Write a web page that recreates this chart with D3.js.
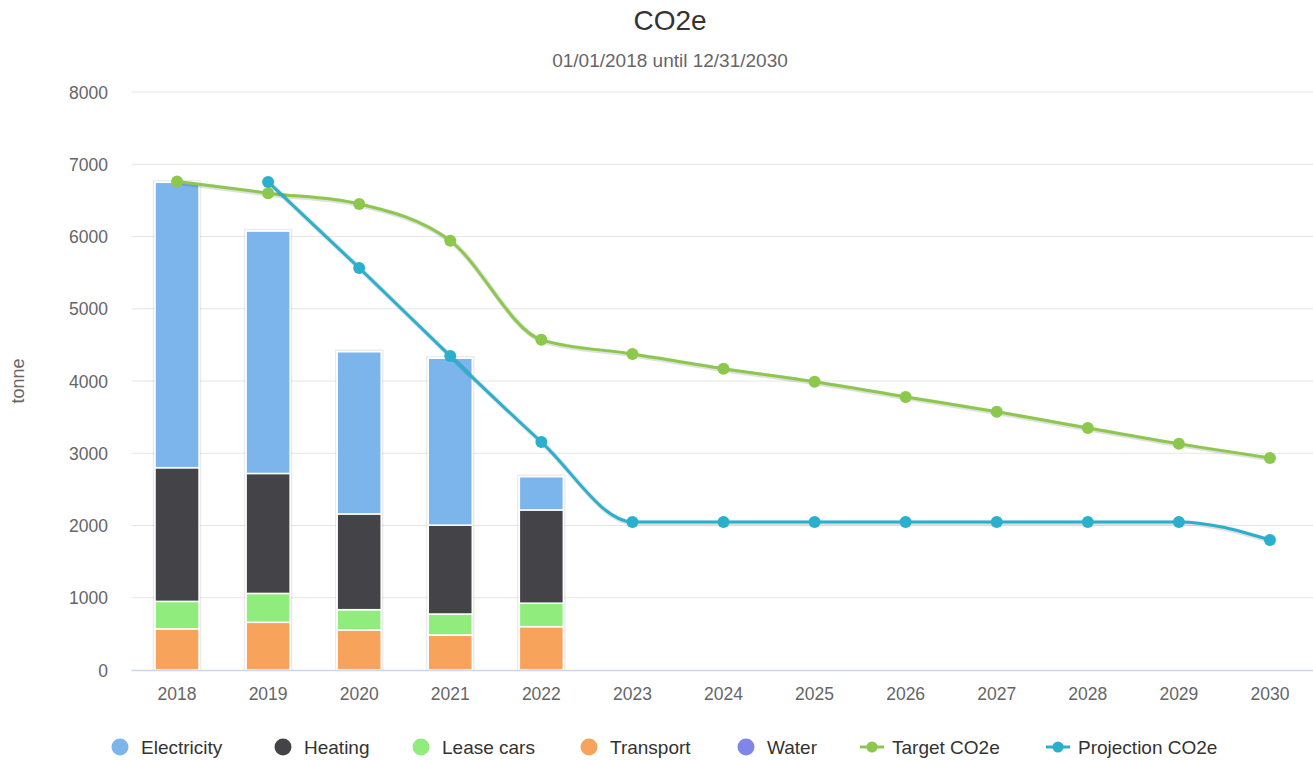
<!DOCTYPE html>
<html><head><meta charset="utf-8">
<script src="https://cdn.jsdelivr.net/npm/d3@7"></script>
<style>body{margin:0;background:#fff;font-family:"Liberation Sans",Arial,sans-serif;}</style>
</head><body><svg id="c" width="1313" height="760"></svg>
<script>
const years = ["2018","2019","2020","2021","2022","2023","2024","2025","2026","2027","2028","2029","2030"];
const electricity = [3950, 3355, 2245, 2310, 460, null, null, null, null, null, null, null, null];
const heating     = [1850, 1660, 1325, 1230, 1290, null, null, null, null, null, null, null, null];
const leaseCars   = [380, 400, 280, 290, 325, null, null, null, null, null, null, null, null];
const transport   = [570, 660, 555, 485, 600, null, null, null, null, null, null, null, null];
const water       = [0, 0, 0, 0, 0, null, null, null, null, null, null, null, null];
const target      = [6760, 6600, 6450, 5940, 4570, 4375, 4170, 3990, 3780, 3575, 3350, 3130, 2935];
const projection  = [null, 6755, 5565, 4345, 3155, 2050, 2050, 2050, 2050, 2050, 2050, 2050, 1800];
const yTicks = [0,1000,2000,3000,4000,5000,6000,7000,8000];

const barSeries = [
  {name:"Transport", values:transport, color:"#f7a35c"},
  {name:"Lease cars", values:leaseCars, color:"#90ed7d"},
  {name:"Heating", values:heating, color:"#434348"},
  {name:"Electricity", values:electricity, color:"#7cb5ec"},
  {name:"Water", values:water, color:"#8085e9"}
];
const lineSeries = [
  {name:"Target CO2e", values:target, color:"#8cc84b"},
  {name:"Projection CO2e", values:projection, color:"#2ab0cc"}
];

const svg = d3.select("#c");
const L = 131.5, R = 1315.5, T = 92, B = 670;
const x = d3.scaleBand().domain(years).range([L, R]);
const y = d3.scaleLinear().domain([0, 8000]).range([B, T]);

// title
svg.append("text").attr("x", 670).attr("y", 30).attr("text-anchor","middle")
  .attr("font-size", 28).attr("fill","#333").text("CO2e");
svg.append("text").attr("x", 670).attr("y", 67).attr("text-anchor","middle")
  .attr("font-size", 19).attr("fill","#666").text("01/01/2018 until 12/31/2030");

// grid
svg.append("g").selectAll("line").data(yTicks.filter(d=>d>0)).join("line")
  .attr("x1", L).attr("x2", 1313).attr("y1", d=>y(d)).attr("y2", d=>y(d))
  .attr("stroke","#e6e6e6").attr("stroke-width",1);

// y labels
svg.append("g").selectAll("text").data(yTicks).join("text")
  .attr("x", 108).attr("y", d=>y(d)+6.5).attr("text-anchor","end")
  .attr("font-size", 17.5).attr("fill","#666").text(d=>d);
svg.append("text").attr("transform","translate(24,381) rotate(-90)")
  .attr("text-anchor","middle").attr("font-size",18).attr("fill","#666").text("tonne");

// bars
const bw = 44;
const stackG = svg.append("g");
years.forEach((yr, i) => {
  let base = 0;
  if (barSeries.every(s => s.values[i] == null)) return;
  const total = barSeries.reduce((a,s)=>a+(s.values[i]||0),0);
  stackG.append("rect").attr("x", x(yr)+x.bandwidth()/2-bw/2-1.5).attr("y", y(total)-1.5)
    .attr("width", bw+3).attr("height", y(0)-y(total)+1.5)
    .attr("fill","none").attr("stroke","#000").attr("stroke-opacity",0.08).attr("stroke-width",1.5);
  barSeries.forEach(s => {
    const v = s.values[i] || 0;
    if (v <= 0) return;
    stackG.append("rect")
      .attr("x", x(yr)+x.bandwidth()/2-bw/2).attr("y", y(base+v))
      .attr("width", bw).attr("height", y(base)-y(base+v))
      .attr("fill", s.color).attr("stroke","#fff").attr("stroke-width",1.5);
    base += v;
  });
});

// x axis
svg.append("line").attr("x1",L).attr("x2",1313).attr("y1",B+0.5).attr("y2",B+0.5)
  .attr("stroke","#ccd6eb").attr("stroke-width",1.5);
svg.append("g").selectAll("text").data(years).join("text")
  .attr("x", d=>x(d)+x.bandwidth()/2).attr("y", 700).attr("text-anchor","middle")
  .attr("font-size",17.5).attr("fill","#666").text(d=>d);

// lines
const cx = i => x(years[i]) + x.bandwidth()/2;
lineSeries.forEach(s => {
  const pts = s.values.map((v,i)=>({i, v})).filter(p=>p.v!=null);
  const line = d3.line().x(p=>cx(p.i)).y(p=>y(p.v)).curve(d3.curveMonotoneX);
  const g = svg.append("g");
  g.append("path").attr("d", line(pts)).attr("fill","none")
    .attr("stroke","#000").attr("stroke-opacity",0.12).attr("stroke-width",5)
    .attr("transform","translate(1,1)");
  g.append("path").attr("d", line(pts)).attr("fill","none")
    .attr("stroke", s.color).attr("stroke-width",3);
  g.selectAll("circle").data(pts).join("circle")
    .attr("cx", p=>cx(p.i)).attr("cy", p=>y(p.v)).attr("r",6).attr("fill", s.color);
});

// legend
const legendItems = [
  {name:"Electricity", color:"#7cb5ec", type:"dot", x:120},
  {name:"Heating", color:"#434348", type:"dot", x:283},
  {name:"Lease cars", color:"#90ed7d", type:"dot", x:421},
  {name:"Transport", color:"#f7a35c", type:"dot", x:589},
  {name:"Water", color:"#8085e9", type:"dot", x:746},
  {name:"Target CO2e", color:"#8cc84b", type:"line", x:872},
  {name:"Projection CO2e", color:"#2ab0cc", type:"line", x:1058}
];
const lg = svg.append("g");
legendItems.forEach(it => {
  const ly = 747;
  if (it.type === "dot") {
    lg.append("circle").attr("cx", it.x).attr("cy", ly).attr("r", 8.5).attr("fill", it.color);
  } else {
    lg.append("line").attr("x1", it.x-12).attr("x2", it.x+12).attr("y1", ly).attr("y2", ly)
      .attr("stroke", it.color).attr("stroke-width",3);
    lg.append("circle").attr("cx", it.x).attr("cy", ly).attr("r", 5.5).attr("fill", it.color);
  }
  lg.append("text").attr("x", it.type==="dot" ? it.x+21 : it.x+20).attr("y", ly+7)
    .attr("font-size",19).attr("fill","#333").text(it.name);
});
</script></body></html>
